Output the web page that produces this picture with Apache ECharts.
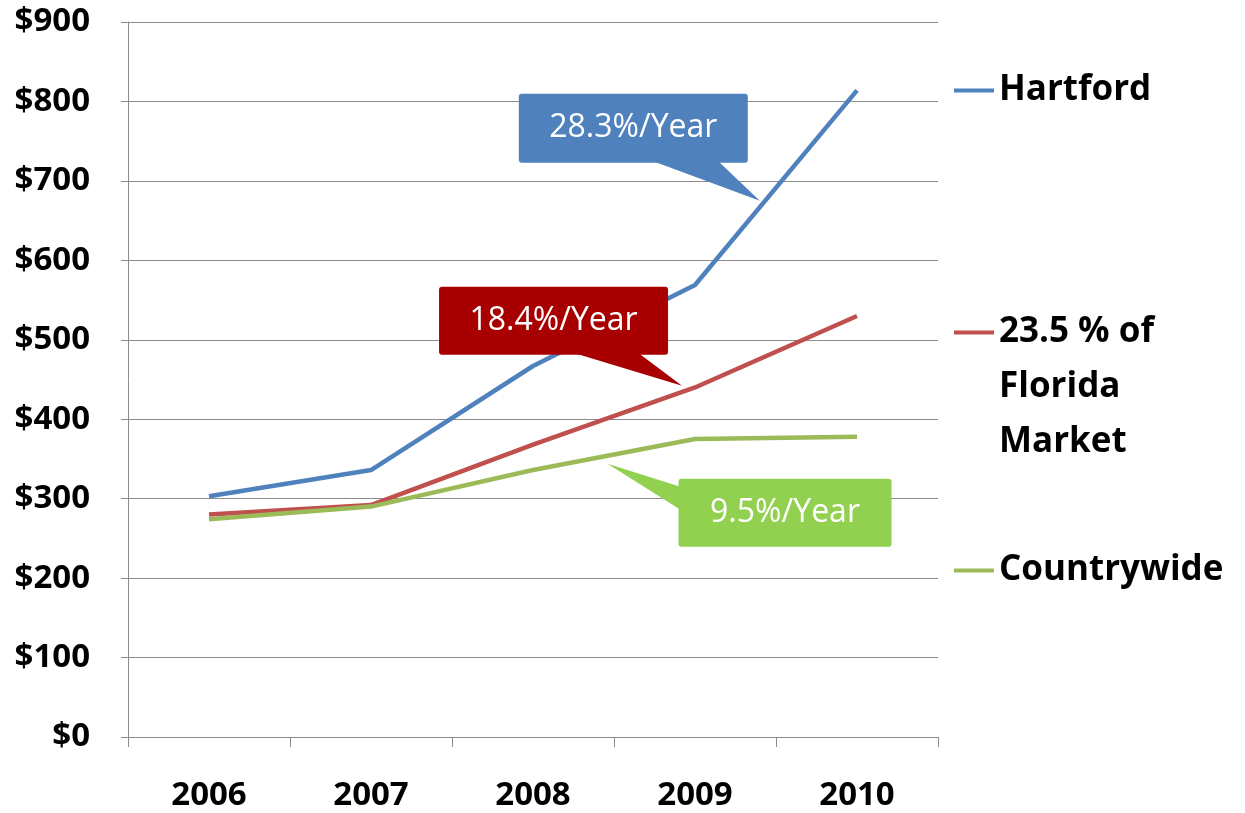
<!DOCTYPE html>
<html>
<head>
<meta charset="utf-8">
<script src="https://cdn.jsdelivr.net/npm/echarts@6/dist/echarts.min.js"></script>
<style>
  html, body { margin: 0; padding: 0; background: #fff; }
  #chart { width: 1245px; height: 813px; }
</style>
</head>
<body>
<div id="chart"></div>
<script>
const years = ['2006', '2007', '2008', '2009', '2010'];
const hartford = [303, 336, 467, 569, 814];
const florida = [280, 292, 368, 440, 530];
const countrywide = [274, 290, 336, 375, 378];

// callouts: tip sits on the data (category index, value), box offset in px
const callouts = [
  { text: '28.3%/Year', color: '#4F81BD', at: [3.40, 675], box: [-241, -107, 229, 69], tail: [[-108, -40], [-42, -40]] },
  { text: '18.4%/Year', color: '#A80000', at: [2.92, 442], box: [-243, -99, 229, 68], tail: [[-109, -33], [-44, -33]] },
  { text: '9.5%/Year', color: '#92D050', at: [2.46, 344], box: [71, 15, 213, 68], tail: [[73, 23], [73, 46]] }
];

const FONT = '"Open Sans", "Noto Sans", sans-serif';
const chart = echarts.init(document.getElementById('chart'));

const legendText = {
  fontFamily: FONT,
  fontSize: 35,
  fontWeight: 'bold',
  color: '#000',
  lineHeight: 55
};

function legendFor(name, top, formatter) {
  return {
    data: [name], left: 954, top: top, padding: 0,
    icon: 'rect', itemWidth: 40, itemHeight: 4,
    formatter: formatter,
    textStyle: legendText
  };
}

function lineSeries(name, data, color) {
  return {
    name: name,
    type: 'line',
    data: data,
    symbol: 'none',
    lineStyle: { color: color, width: 4.5 },
    itemStyle: { color: color },
    animation: false
  };
}

const option = {
  animation: false,
  grid: { left: 128, right: 307, top: 22, bottom: 76 },
  legend: [
    legendFor('Hartford', 63),
    // two empty lines on top so the first line sits level with the icon
    legendFor('23.5 % of\nFlorida\nMarket', 195, (n) => '\n\n' + n),
    legendFor('Countrywide', 543)
  ],
  xAxis: {
    type: 'category',
    data: years,
    boundaryGap: true,
    axisLine: { lineStyle: { color: '#8c8c8c', width: 1 } },
    axisTick: { show: true, length: 10, lineStyle: { color: '#8c8c8c' } },
    axisLabel: {
      margin: 42,
      fontFamily: FONT, fontSize: 33, fontWeight: 'bold', color: '#000'
    }
  },
  yAxis: {
    type: 'value',
    min: 0, max: 900, interval: 100,
    axisLine: { show: true, lineStyle: { color: '#8c8c8c', width: 1 } },
    axisTick: { show: true, length: 7, lineStyle: { color: '#8c8c8c' } },
    splitLine: { lineStyle: { color: '#8c8c8c', width: 1 } },
    axisLabel: {
      margin: 38,
      formatter: '${value}',
      fontFamily: FONT, fontSize: 33, fontWeight: 'bold', color: '#000'
    }
  },
  series: [
    lineSeries('Hartford', hartford, '#4F81BD'),
    lineSeries('23.5 % of\nFlorida\nMarket', florida, '#C0504D'),
    lineSeries('Countrywide', countrywide, '#9BBB59')
  ]
};

chart.setOption(option);

// category axis snaps to whole indexes, so interpolate between neighbours
function toPixel(at) {
  const i0 = Math.floor(at[0]);
  const f = at[0] - i0;
  const a = chart.convertToPixel({ gridIndex: 0 }, [i0, at[1]]);
  const b = chart.convertToPixel({ gridIndex: 0 }, [i0 + 1, at[1]]);
  return [a[0] + (b[0] - a[0]) * f, a[1]];
}

const graphics = [];
callouts.forEach((c) => {
  const p = toPixel(c.at);
  const bx = p[0] + c.box[0], by = p[1] + c.box[1];
  graphics.push({
    type: 'polygon', z: 100,
    shape: { points: [[p[0], p[1]], [p[0] + c.tail[0][0], p[1] + c.tail[0][1]], [p[0] + c.tail[1][0], p[1] + c.tail[1][1]]] },
    style: { fill: c.color }
  });
  graphics.push({
    type: 'rect', z: 100,
    shape: { x: bx, y: by, width: c.box[2], height: c.box[3], r: 3 },
    style: { fill: c.color }
  });
  graphics.push({
    type: 'text', z: 101,
    x: bx + c.box[2] / 2, y: by + c.box[3] / 2,
    style: {
      text: c.text, fill: '#fff',
      font: '32px ' + FONT,
      align: 'center', verticalAlign: 'middle'
    }
  });
});
chart.setOption({ graphic: graphics });

window.addEventListener('resize', function () {
  chart.resize();
});
</script>
</body>
</html>
